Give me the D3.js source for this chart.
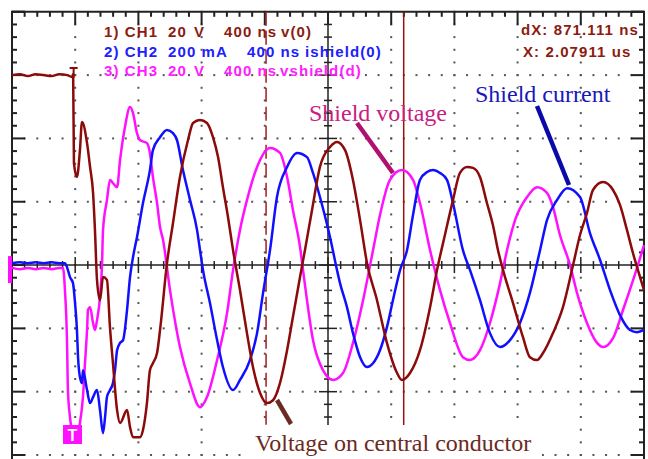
<!DOCTYPE html>
<html>
<head>
<meta charset="utf-8">
<script src="https://cdn.jsdelivr.net/npm/d3@7"></script>
<style>
  body { margin: 0; background: #fff; }
  svg { display: block; }
</style>
</head>
<body>
<svg id="scope" width="648" height="459"></svg>
<script>
// time in ns, trigger at 0, 400 ns/div ; values in channel units
const ch1 = [ // v(0), V
  [-400, 60], [-350, 60.3], [-300, 59.7], [-250, 60.3], [-200, 60], [-150, 59.7], [-100, 60.3], [-50, 60],
  [-20, 59.4], [-13, 60.3], [-8, 32.2], [11, 27.8], [30, 36.3], [43, 45.2], [75, 38.5], [94, 31.0],
  [113, 22.8], [125, 11.1], [138, -4.7], [157, -11.1], [176, -3.8], [201, -4.7], [220, -19.6], [239, -31.0],
  [265, -45.8], [284, -49.9], [328, -45.8], [347, -51.2], [366, -54.4], [410, -54.4], [429, -52.1], [454, -43.6],
  [473, -33.2], [492, -31.0], [518, -27.8], [537, -20.5], [581, 0.6], [619, 13.3], [663, 27.8], [714, 39.5],
  [746, 44.9], [790, 45.8], [834, 44.9], [872, 40.4], [904, 34.1], [935, 24.6], [967, 15.2], [999, 4.7],
  [1043, -7.9], [1087, -21.5], [1125, -32.2], [1170, -40.4], [1214, -43.6], [1252, -42.7], [1296, -37.3], [1341, -26.9],
  [1378, -16.4], [1423, -3.8], [1454, 4.7], [1499, 17.4], [1549, 31.0], [1613, 37.3], [1657, 38.9], [1708, 36.3],
  [1758, 26.9], [1803, 14.2], [1847, 0.6], [1910, -11.1], [1973, -24.6], [2037, -34.1], [2068, -36.3], [2119, -34.1],
  [2182, -26.9], [2246, -13.3], [2290, -1.6], [2340, 9.5], [2391, 20.5], [2435, 29.1], [2480, 31.0], [2518, 30.7],
  [2562, 27.8], [2606, 19.6], [2644, 12.6], [2676, 4.7], [2708, -1.6], [2771, -12.0], [2834, -22.8], [2878, -29.1],
  [2923, -30.0], [2961, -27.8], [3024, -21.5], [3087, -13.3], [3151, 0], [3195, 9.5], [3239, 16.4], [3277, 23.7],
  [3341, 26.2], [3404, 23.7], [3448, 19.0], [3492, 11.1], [3530, 3.8], [3575, -3.8], [3600, -7.9]
];

const ch2 = [ // ishield(0), mA
  [-400, 6], [-350, 9], [-300, 6], [-250, 9], [-200, 6], [-150, 9], [-100, 6], [-65, 6],
  [-46, -16], [-33, -38], [-14, -57], [-1, -120], [11, -205], [18, -291], [30, -354], [43, -373],
  [49, -332], [75, -395], [94, -436], [113, -417], [138, -395], [157, -458], [176, -531], [189, -480],
  [201, -417], [220, -395], [239, -373], [252, -332], [265, -269], [284, -246], [303, -237], [328, -142],
  [347, -38], [366, 25], [391, 88], [429, 196], [473, 300], [492, 363], [537, 404], [581, 427],
  [619, 417], [644, 395], [682, 300], [727, 205], [771, 111], [790, 47], [809, -16], [853, -120],
  [898, -237], [935, -322], [999, -395], [1043, -363], [1106, -300], [1151, -215], [1189, -88], [1233, 47],
  [1277, 215], [1341, 310], [1404, 354], [1467, 341], [1505, 291], [1549, 215], [1613, 88], [1657, -16],
  [1676, -57], [1720, -133], [1758, -215], [1803, -291], [1847, -322], [1885, -310], [1929, -269], [1973, -196],
  [2011, -111], [2056, -16], [2100, 47], [2138, 158], [2182, 269], [2227, 294], [2265, 300], [2309, 291],
  [2353, 269], [2391, 196], [2454, 47], [2499, -16], [2562, -111], [2625, -215], [2689, -259], [2752, -237],
  [2815, -183], [2878, -88], [2942, 47], [2986, 142], [3049, 205], [3113, 243], [3195, 215], [3258, 101],
  [3322, 16], [3385, -79], [3448, -158], [3511, -205], [3556, -212], [3600, -205]
];

const ch3 = [ // vshield(d), V
  [-400, -0.9], [-350, -1.3], [-300, -0.9], [-250, -1.3], [-200, -0.9], [-150, -1.3], [-100, -0.9], [-77, -0.9],
  [-65, -7.9], [-52, -23.7], [-46, -39.5], [-33, -48.0], [-20, -52.8], [-1, -55.3], [18, -52.8], [30, -49.9],
  [49, -41.7], [62, -31.0], [75, -20.5], [81, -14.2], [94, -13.3], [113, -18.3], [125, -20.5], [138, -17.4],
  [157, -10.1], [170, 0.6], [176, 11.1], [201, 20.5], [220, 26.9], [239, 25.9], [265, 24.6], [284, 33.2],
  [315, 43.6], [347, 49.9], [366, 48.0], [391, 41.7], [410, 39.5], [454, 38.5], [473, 35.4], [492, 27.8],
  [518, 19.6], [537, 12.0], [556, 7.9], [600, -7.9], [663, -25.9], [726, -37.3], [790, -44.9], [834, -41.7],
  [898, -30.0], [961, -15.2], [999, -1.6], [1043, 11.1], [1087, 20.5], [1151, 31.0], [1233, 37.0], [1296, 35.4],
  [1341, 27.8], [1378, 17.4], [1423, 5.7], [1442, -1.6], [1467, -11.1], [1505, -23.7], [1568, -33.2], [1632, -36.3],
  [1695, -34.1], [1758, -24.6], [1822, -11.1], [1885, 4.7], [1929, 15.8], [1992, 26.9], [2068, 30.0], [2138, 26.9],
  [2182, 19.6], [2246, 4.7], [2309, -7.9], [2372, -18.3], [2454, -29.1], [2499, -30.0], [2562, -26.9], [2625, -18.3],
  [2689, -5.7], [2733, 4.7], [2784, 14.2], [2860, 21.5], [2923, 24.6], [2986, 22.8], [3024, 18.3], [3068, 9.5],
  [3132, 0], [3176, -8.8], [3239, -18.3], [3303, -24.6], [3341, -25.9], [3404, -23.1], [3467, -14.2], [3556, -0.9],
  [3600, 6.3]
];

const unitsPerDiv = [20, 200, 20];
const traceColors = ['#8b0a0a', '#1010ff', '#ff10ff'];

const channelLabels = [
  ['1) CH1', '20', 'V', '400 ns', 'v(0)'],
  ['2) CH2', '200 mA', '', '400 ns', 'ishield(0)'],
  ['3) CH3', '20', 'V', '400 ns', 'vshield(d)']
];
const cursorTimes = [1208, 2079.11]; // ns
const readout = ['dX: 871.111 ns', 'X: 2.07911 us'];

const svg = d3.select('#scope');
svg.append('rect').attr('width', 648).attr('height', 459).attr('fill', '#fff');

const x = d3.scaleLinear().domain([-400, 3600]).range([12, 644]);
const yDiv = d3.scaleLinear().domain([-3, 4]).range([455, 11.8]);
const bottom = 459;

const minorT = d3.range(0, 51).map(i => -400 + i * 80);
const majorT = d3.range(0, 11).map(i => -400 + i * 400);
const minorD = d3.range(0, 36).map(i => -3 + i * 0.2);
const majorD = d3.range(0, 8).map(i => -3 + i);
const isMajorT = t => Math.abs((t + 400) % 400) < 1e-6;
const isMajorD = d => Math.abs(d - Math.round(d)) < 1e-6;

// dotted graticule
const grid = svg.append('g').attr('fill', '#555');
majorT.filter(t => t > -400 && t < 3600 && t !== 1600).forEach(t => {
  grid.selectAll(null).data(minorD).enter().append('rect')
    .attr('x', x(t) - 1).attr('y', d => yDiv(d) - 1).attr('width', 2).attr('height', 2);
});
majorD.filter(d => d !== 0 && d < 4).forEach(d => {
  grid.selectAll(null).data(minorT).enter().append('rect')
    .attr('x', t => x(t) - 1).attr('y', yDiv(d) - 1).attr('width', 2).attr('height', 2);
});

// center axes
const axes = svg.append('g').attr('stroke', '#222').attr('stroke-width', 1.5);
axes.append('line').attr('x1', 12).attr('x2', 644).attr('y1', yDiv(0)).attr('y2', yDiv(0));
axes.append('line').attr('x1', x(1600)).attr('x2', x(1600)).attr('y1', yDiv(4)).attr('y2', bottom);
axes.selectAll(null).data(minorT).enter().append('line')
  .attr('x1', t => x(t)).attr('x2', t => x(t))
  .attr('y1', t => yDiv(0) - (isMajorT(t) ? 8 : 4)).attr('y2', t => yDiv(0) + (isMajorT(t) ? 8 : 4));
axes.selectAll(null).data(minorD).enter().append('line')
  .attr('y1', d => yDiv(d)).attr('y2', d => yDiv(d))
  .attr('x1', d => x(1600) - (isMajorD(d) ? 9 : 4)).attr('x2', d => x(1600) + (isMajorD(d) ? 9 : 4));

// frame with inward ticks
const frame = svg.append('g').attr('stroke', '#222').attr('stroke-width', 2);
frame.append('path').attr('fill', 'none')
  .attr('d', `M12,${bottom}V${yDiv(4)}H644V${bottom}`);
frame.selectAll(null).data(minorD.concat([4])).enter().append('line')
  .attr('y1', d => yDiv(d)).attr('y2', d => yDiv(d))
  .attr('x1', 12).attr('x2', d => 12 + (isMajorD(d) ? 13 : 5));
frame.selectAll(null).data(minorD.concat([4])).enter().append('line')
  .attr('y1', d => yDiv(d)).attr('y2', d => yDiv(d))
  .attr('x1', 644).attr('x2', d => 644 - (isMajorD(d) ? 13 : 5));
frame.selectAll(null).data(minorT).enter().append('line')
  .attr('x1', t => x(t)).attr('x2', t => x(t))
  .attr('y1', yDiv(4)).attr('y2', t => yDiv(4) + (isMajorT(t) ? 13 : 5));

// cursors
svg.append('line').attr('x1', x(cursorTimes[0])).attr('x2', x(cursorTimes[0]))
  .attr('y1', yDiv(4)).attr('y2', bottom)
  .attr('stroke', '#9b2020').attr('stroke-width', 1.5).attr('stroke-dasharray', '14,5');
svg.append('line').attr('x1', x(cursorTimes[1])).attr('x2', x(cursorTimes[1]))
  .attr('y1', yDiv(4)).attr('y2', bottom)
  .attr('stroke', '#9b1010').attr('stroke-width', 1.5);

// traces
const traces = [ch3, ch2, ch1];
const order = [2, 1, 0];
traces.forEach((data, i) => {
  const ch = order[i];
  const line = d3.line()
    .x(d => x(d[0]))
    .y(d => yDiv(d[1] / unitsPerDiv[ch]))
    .curve(d3.curveMonotoneX);
  svg.append('path').datum(data)
    .attr('fill', 'none').attr('stroke', traceColors[ch])
    .attr('stroke-width', 2.5).attr('stroke-linejoin', 'round')
    .attr('d', line);
});

// trigger / ground markers
svg.append('path').attr('d', `M${x(-10) - 4},68H${x(-10) + 4}M${x(-10)},68V78`)
  .attr('stroke', traceColors[0]).attr('stroke-width', 2).attr('fill', 'none');
svg.append('rect').attr('x', 8).attr('y', yDiv(0) - 9).attr('width', 4).attr('height', 27).attr('fill', '#ff10ff');
svg.append('rect').attr('x', 63).attr('y', 425).attr('width', 19).attr('height', 19).attr('fill', '#ff10ff');
svg.append('text').attr('x', 72.5).attr('y', 441).attr('text-anchor', 'middle')
  .attr('font-family', 'Liberation Sans, Arial, sans-serif').attr('font-weight', 'bold')
  .attr('font-size', 16).attr('fill', '#fff').text('T');

// channel labels
const labelX = [[104, 168, 194, 224, 281], [104, 168, 0, 247, 305], [104, 168, 194, 224, 280]];
const labelColors = ['#8b1c10', '#2020ff', '#ff20ff'];
channelLabels.forEach((row, i) => {
  row.forEach((s, j) => {
    if (!s) return;
    svg.append('text').attr('x', labelX[i][j]).attr('y', 37 + i * 19.5)
      .attr('font-family', 'Liberation Sans, Arial, sans-serif').attr('font-weight', 'bold')
      .attr('font-size', 15).attr('letter-spacing', 1.1).attr('fill', labelColors[i]).text(s);
  });
});
readout.forEach((s, i) => {
  svg.append('text').attr('x', i ? 523 : 521).attr('y', 35 + i * 22)
    .attr('font-family', 'Liberation Sans, Arial, sans-serif').attr('font-weight', 'bold')
    .attr('font-size', 15).attr('letter-spacing', 1.1).attr('fill', '#8b1c10').text(s);
});

// annotations
const serif = 'Liberation Serif, Times New Roman, serif';
svg.append('line').attr('x1', 357).attr('y1', 123).attr('x2', 393).attr('y2', 173)
  .attr('stroke', '#b0106e').attr('stroke-width', 4.5);
svg.append('text').attr('x', 309).attr('y', 121).attr('font-family', serif).attr('font-size', 24)
  .attr('fill', '#c8207f').text('Shield voltage');
svg.append('line').attr('x1', 537).attr('y1', 106).attr('x2', 569).attr('y2', 185)
  .attr('stroke', '#0a0aa8').attr('stroke-width', 4.5);
svg.append('text').attr('x', 475).attr('y', 102).attr('font-family', serif).attr('font-size', 24)
  .attr('fill', '#1818b8').text('Shield current');
svg.append('rect').attr('x', 250).attr('y', 425).attr('width', 292).attr('height', 34).attr('fill', '#fff');
svg.append('line').attr('x1', 277).attr('y1', 400).attr('x2', 291).attr('y2', 424)
  .attr('stroke', '#6b2a22').attr('stroke-width', 4.5);
svg.append('text').attr('x', 255).attr('y', 451).attr('font-family', serif).attr('font-size', 24)
  .attr('fill', '#6b2a22').text('Voltage on central conductor');
</script>
</body>
</html>
